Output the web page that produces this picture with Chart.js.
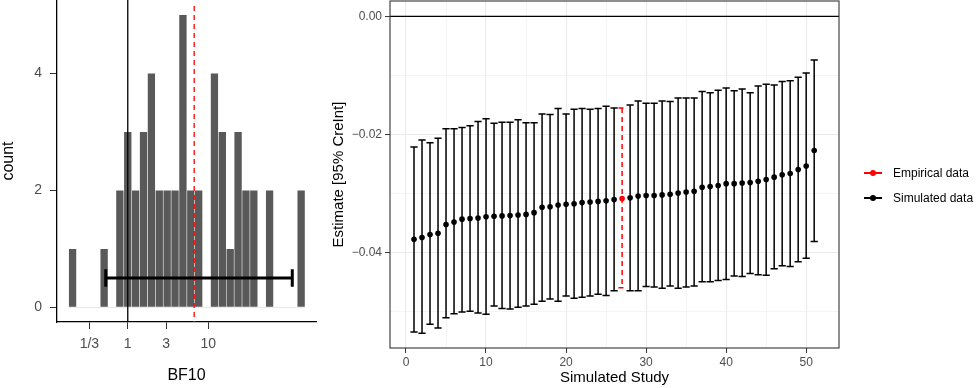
<!DOCTYPE html>
<html>
<head>
<meta charset="utf-8">
<script src="https://cdn.jsdelivr.net/npm/chart.js@4.4.1/dist/chart.umd.min.js"></script>
<style>
  html, body { margin: 0; padding: 0; background: #fff; }
  #wrap { position: relative; width: 977px; height: 388px; overflow: hidden; font-family: "Liberation Sans", Arial, sans-serif; }
  #bfCanvas { position: absolute; left: 0; top: 0; }
  #estCanvas { position: absolute; left: 330px; top: 0; }
  .legItem { position: absolute; left: 864px; height: 14px; width: 113px; }
  .legLine { position: absolute; left: 0; top: 6px; width: 18px; height: 1.6px; }
  .legDot { position: absolute; left: 6px; top: 4px; width: 6px; height: 6px; border-radius: 50%; }
  .legText { position: absolute; left: 29px; top: 0; font-size: 12px; line-height: 14px; color: #000; white-space: nowrap; }
</style>
</head>
<body>
<div id="wrap">
  <canvas id="bfCanvas" width="330" height="388"></canvas>
  <canvas id="estCanvas" width="647" height="388"></canvas>
  <div class="legItem" style="top:166px">
    <div class="legLine" style="background:#ff0000"></div>
    <div class="legDot" style="background:#ff0000"></div>
    <div class="legText">Empirical data</div>
  </div>
  <div class="legItem" style="top:191px">
    <div class="legLine" style="background:#000"></div>
    <div class="legDot" style="background:#000"></div>
    <div class="legText">Simulated data</div>
  </div>
</div>
<script>
// --- 左: BF10 ヒストグラム (x は log10 単位) ---
const bfBinCounts = [1, 0, 0, 0, 1, 0, 2, 3, 2, 3, 4, 2, 2, 2, 5, 2, 2, 0, 4, 3, 1, 3, 2, 2, 0, 2, 0, 0, 0, 2];
const bfBinStartLog = -0.735;   // 最初のビンの左端 (log10 BF)
const bfBinWidthLog = 0.098;    // ビン幅 (log10)
const bfTickLogs = [Math.log10(1 / 3), 0, Math.log10(3), 1];
const bfTickLabels = ['1/3', '1', '3', '10'];
const bfCountTicks = [0, 2, 4];
const bfNullLog = 0;            // BF10 = 1
const bfEmpiricalLog = 0.826;   // 赤い破線
const bfIntervalLog = [-0.274, 2.046];
const bfIntervalY = 0.5;

// --- 右: シミュレーション研究の推定値 ---
const simStudy = [1, 2, 3, 4, 5, 6, 7, 8, 9, 10, 11, 12, 13, 14, 15, 16, 17, 18, 19, 20, 21, 22, 23, 24, 25, 26,
  28, 29, 30, 31, 32, 33, 34, 35, 36, 37, 38, 39, 40, 41, 42, 43, 44, 45, 46, 47, 48, 49, 50, 51];
const simEstimate = [-0.0377, -0.0374, -0.0369, -0.0367, -0.0352, -0.0348, -0.0343, -0.0342, -0.0341, -0.0339,
  -0.0338, -0.03375, -0.0337, -0.0336, -0.0335, -0.0332, -0.0323, -0.0322, -0.0319, -0.0318,
  -0.0317, -0.0315, -0.0314, -0.0313, -0.0312, -0.0310,
  -0.0307, -0.0304, -0.0303, -0.0303, -0.0302, -0.0301, -0.0299, -0.0297, -0.0296, -0.0289,
  -0.0288, -0.0286, -0.0283, -0.0283, -0.0282, -0.0281, -0.0279, -0.0276, -0.0272, -0.0268,
  -0.0266, -0.0259, -0.0253, -0.0227];
const simUpper = [-0.0221, -0.0209, -0.0214, -0.0206, -0.0190, -0.0190, -0.0188, -0.0185, -0.0178, -0.0173,
  -0.0181, -0.0179, -0.0179, -0.0175, -0.0180, -0.0180, -0.0165, -0.0166, -0.0156, -0.0165,
  -0.0157, -0.0156, -0.0157, -0.0156, -0.0152, -0.0155,
  -0.0150, -0.0143, -0.0147, -0.0147, -0.0143, -0.0144, -0.0138, -0.0138, -0.0138, -0.0127,
  -0.0129, -0.0125, -0.0121, -0.0126, -0.0123, -0.0129, -0.0118, -0.0115, -0.0116, -0.0110,
  -0.0109, -0.0103, -0.0096, -0.0074];
const simLower = [-0.0534, -0.0536, -0.0521, -0.0527, -0.0510, -0.0503, -0.0500, -0.0499, -0.0502, -0.0504,
  -0.0490, -0.0494, -0.0495, -0.0492, -0.0490, -0.0487, -0.0482, -0.0478, -0.0482, -0.0473,
  -0.0477, -0.0475, -0.0473, -0.0470, -0.0472, -0.0464,
  -0.0464, -0.0464, -0.0457, -0.0458, -0.0460, -0.0456, -0.0460, -0.0458, -0.0456, -0.0449,
  -0.0449, -0.0447, -0.0445, -0.0439, -0.0440, -0.0435, -0.0437, -0.0438, -0.0427, -0.0422,
  -0.0423, -0.0415, -0.0409, -0.0381];
const empStudy = [27];
const empEstimate = [-0.0308];
const empUpper = [-0.0155];
const empLower = [-0.0459];
const estXTicks = [0, 5, 10, 15, 20, 25, 30, 35, 40, 45, 50];
const estXLabels = ['0', '', '10', '', '20', '', '30', '', '40', '', '50'];
const estYTicks = [-0.05, -0.04, -0.03, -0.02, -0.01, 0];
const estYLabels = ['', '\u22120.04', '', '\u22120.02', '', '0.00'];
const estRefLine = 0;

const FONT = '"Liberation Sans", Arial, sans-serif';
Chart.defaults.font.family = FONT;

// 軸ラベル分の自動余白を消して、プロット領域を固定する
function noPad(s) {
  s.paddingTop = 0; s.paddingBottom = 0; s.paddingLeft = 0; s.paddingRight = 0;
}

// --- 左パネル ---
const bfBars = bfBinCounts.map((c, i) => ({ x: bfBinStartLog + (i + 0.5) * bfBinWidthLog, y: c }));
const bfBaseline = [
  { x: bfBinStartLog, y: 0 },
  { x: bfBinStartLog + bfBinCounts.length * bfBinWidthLog, y: 0 }
];

const bfLines = {
  id: 'bfLines',
  afterDatasetsDraw(chart) {
    const { ctx, chartArea, scales: { x, y } } = chart;
    ctx.save();
    // BF10 = 1 の線
    ctx.strokeStyle = '#000';
    ctx.lineWidth = 1.3;
    let px = x.getPixelForValue(bfNullLog);
    ctx.beginPath(); ctx.moveTo(px, chartArea.top); ctx.lineTo(px, chartArea.bottom); ctx.stroke();
    // 実データの BF (赤破線)
    ctx.strokeStyle = '#ff0000';
    ctx.setLineDash([5, 4]);
    px = x.getPixelForValue(bfEmpiricalLog);
    ctx.beginPath(); ctx.moveTo(px, chartArea.top + 6); ctx.lineTo(px, chartArea.bottom); ctx.stroke();
    ctx.setLineDash([]);
    // 区間 (横のエラーバー)
    ctx.strokeStyle = '#000';
    ctx.lineWidth = 3;
    const x0 = x.getPixelForValue(bfIntervalLog[0]);
    const x1 = x.getPixelForValue(bfIntervalLog[1]);
    const yc = y.getPixelForValue(bfIntervalY);
    const yt = y.getPixelForValue(bfIntervalY + 0.15);
    const yb = y.getPixelForValue(bfIntervalY - 0.15);
    ctx.beginPath();
    ctx.moveTo(x0, yc); ctx.lineTo(x1, yc);
    ctx.moveTo(x0, yt); ctx.lineTo(x0, yb);
    ctx.moveTo(x1, yt); ctx.lineTo(x1, yb);
    ctx.stroke();
    ctx.restore();
  }
};

new Chart(document.getElementById('bfCanvas'), {
  type: 'bar',
  data: {
    datasets: [
      {
        type: 'bar', data: bfBars, backgroundColor: '#595959',
        borderColor: 'rgba(255,255,255,0.25)', borderWidth: 0.6, borderSkipped: 'bottom',
        barPercentage: 1, categoryPercentage: 1, grouped: false, order: 1
      },
      {
        type: 'line', data: bfBaseline, borderColor: '#e6e6e6', borderWidth: 1,
        pointRadius: 0, order: 2
      }
    ]
  },
  options: {
    responsive: false,
    animation: false,
    layout: { autoPadding: false, padding: { top: 0, right: 14, bottom: 0, left: 0 } },
    plugins: { legend: { display: false }, tooltip: { enabled: false } },
    scales: {
      x: {
        type: 'linear', min: -0.88, max: 2.341, offset: false,
        afterBuildTicks: s => { s.ticks = bfTickLogs.map(v => ({ value: v })); },
        afterFit: s => { s.height = 66; noPad(s); },
        ticks: { callback: (v, i) => bfTickLabels[i], color: '#4d4d4d', font: { size: 14 }, padding: 7, maxRotation: 0, autoSkip: false },
        grid: { offset: false, drawOnChartArea: false, drawTicks: true, tickLength: 7, tickColor: '#333', tickWidth: 1 },
        border: { color: '#000', width: 1.3 },
        title: { display: true, text: 'BF10', color: '#000', font: { size: 16, lineHeight: 1 }, padding: { top: 0, bottom: 4 } }
      },
      y: {
        type: 'linear', min: -0.25, max: 5.25,
        afterBuildTicks: s => { s.ticks = bfCountTicks.map(v => ({ value: v })); },
        afterFit: s => { s.width = 57; noPad(s); },
        ticks: { color: '#4d4d4d', font: { size: 14 }, padding: 8 },
        grid: { drawOnChartArea: false, drawTicks: true, tickLength: 7, tickColor: '#333', tickWidth: 1 },
        border: { color: '#000', width: 1.3 },
        title: { display: true, text: 'count', color: '#000', font: { size: 16, lineHeight: 1 }, padding: { top: 1, bottom: 0 } }
      }
    }
  },
  plugins: [bfLines]
});

// --- 右パネル ---
const estDecor = {
  id: 'estDecor',
  beforeDatasetsDraw(chart) {
    const { ctx, chartArea, scales: { x, y } } = chart;
    ctx.save();
    // y = 0 の線
    ctx.strokeStyle = '#000';
    ctx.lineWidth = 1.2;
    const y0 = y.getPixelForValue(estRefLine);
    ctx.beginPath(); ctx.moveTo(chartArea.left, y0); ctx.lineTo(chartArea.right, y0); ctx.stroke();
    // エラーバー
    const drawBars = (xs, lo, hi, color, dash) => {
      ctx.strokeStyle = color;
      ctx.lineWidth = 1.5;
      ctx.setLineDash(dash);
      xs.forEach((s, i) => {
        const px = x.getPixelForValue(s);
        const hw = x.getPixelForValue(s + 0.45) - px;
        const pl = y.getPixelForValue(lo[i]);
        const ph = y.getPixelForValue(hi[i]);
        ctx.beginPath();
        ctx.moveTo(px - hw, ph); ctx.lineTo(px + hw, ph);
        ctx.moveTo(px, ph); ctx.lineTo(px, pl);
        ctx.moveTo(px - hw, pl); ctx.lineTo(px + hw, pl);
        ctx.stroke();
      });
      ctx.setLineDash([]);
    };
    drawBars(simStudy, simLower, simUpper, '#000', []);
    drawBars(empStudy, empLower, empUpper, '#ff0000', [5, 4]);
    ctx.restore();
  },
  afterDraw(chart) {
    const { ctx, chartArea } = chart;
    ctx.save();
    ctx.strokeStyle = '#333';
    ctx.lineWidth = 1.1;
    ctx.strokeRect(chartArea.left, chartArea.top, chartArea.right - chartArea.left, chartArea.bottom - chartArea.top);
    ctx.restore();
  }
};

new Chart(document.getElementById('estCanvas'), {
  type: 'scatter',
  data: {
    datasets: [
      {
        label: 'Simulated data',
        data: simStudy.map((s, i) => ({ x: s, y: simEstimate[i] })),
        backgroundColor: '#000', borderColor: '#000', pointRadius: 2.8, borderWidth: 0
      },
      {
        label: 'Empirical data',
        data: empStudy.map((s, i) => ({ x: s, y: empEstimate[i] })),
        backgroundColor: '#ff0000', borderColor: '#ff0000', pointRadius: 2.8, borderWidth: 0
      }
    ]
  },
  options: {
    responsive: false,
    animation: false,
    layout: { autoPadding: false, padding: { top: 1, right: 138, bottom: 0, left: 0 } },
    plugins: { legend: { display: false }, tooltip: { enabled: false } },
    scales: {
      x: {
        type: 'linear', min: -2, max: 54.1,
        afterBuildTicks: s => { s.ticks = estXTicks.map(v => ({ value: v })); },
        afterFit: s => { s.height = 40; noPad(s); },
        ticks: { callback: (v, i) => estXLabels[i], color: '#4d4d4d', font: { size: 12 }, padding: 2, maxRotation: 0, autoSkip: false },
        grid: {
          color: '#ebebeb',
          lineWidth: c => (estXLabels[c.index] ? 1.1 : 0.55),
          tickLength: 5,
          tickColor: c => (estXLabels[c.index] ? '#333' : 'rgba(0,0,0,0)'),
          tickWidth: 1
        },
        border: { display: false },
        title: { display: true, text: 'Simulated Study', color: '#000', font: { size: 15, lineHeight: 1.2 }, padding: { top: 0, bottom: 1 } }
      },
      y: {
        type: 'linear', min: -0.0561, max: 0.0026,
        afterBuildTicks: s => { s.ticks = estYTicks.map(v => ({ value: v })); },
        afterFit: s => { s.width = 60; noPad(s); },
        ticks: { callback: (v, i) => estYLabels[i], color: '#4d4d4d', font: { size: 12 }, padding: 3, autoSkip: false },
        grid: {
          color: '#ebebeb',
          lineWidth: c => (estYLabels[c.index] ? 1.1 : 0.55),
          tickLength: 5,
          tickColor: c => (estYLabels[c.index] ? '#333' : 'rgba(0,0,0,0)'),
          tickWidth: 1
        },
        border: { display: false },
        title: { display: true, text: 'Estimate [95% CreInt]', color: '#000', font: { size: 15, lineHeight: 1 }, padding: { top: 1, bottom: 0 } }
      }
    }
  },
  plugins: [estDecor]
});
</script>
</body>
</html>
